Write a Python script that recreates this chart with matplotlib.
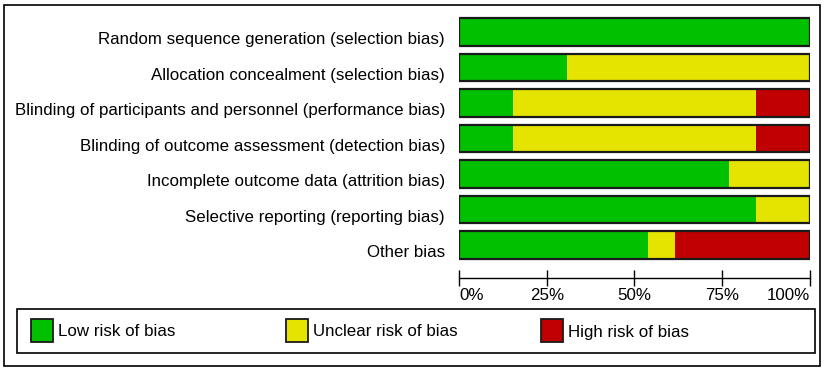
import matplotlib
matplotlib.use("Agg")
import matplotlib.pyplot as plt
from matplotlib.patches import Rectangle
from matplotlib.transforms import ScaledTranslation

# risk of bias domains, top to bottom
domains = [
    "Random sequence generation (selection bias)",
    "Allocation concealment (selection bias)",
    "Blinding of participants and personnel (performance bias)",
    "Blinding of outcome assessment (detection bias)",
    "Incomplete outcome data (attrition bias)",
    "Selective reporting (reporting bias)",
    "Other bias",
]
# percent of studies (13 studies)
low_risk = [100.0, 30.8, 15.4, 15.4, 76.9, 84.6, 53.8]
unclear_risk = [0.0, 69.2, 69.2, 69.2, 23.1, 15.4, 7.7]
high_risk = [0.0, 0.0, 15.4, 15.4, 0.0, 0.0, 38.5]

legend_labels = ["Low risk of bias", "Unclear risk of bias", "High risk of bias"]
tick_values = [0, 25, 50, 75, 100]
tick_labels = ["0%", "25%", "50%", "75%", "100%"]

colors = ["#00c000", "#e4e400", "#c00000"]

W, H = 829, 371
plt.rcParams["font.family"] = ["Liberation Sans", "DejaVu Sans"]
fs = 12.2

fig = plt.figure(figsize=(W / 100, H / 100), dpi=100)


def px(x0, y0, x1, y1):
    # pixel box (top-left origin) -> figure fraction [l, b, w, h]
    return [x0 / W, 1 - y1 / H, (x1 - x0) / W, (y1 - y0) / H]


ax = fig.add_axes(px(459, 14, 810, 278))
ypos = list(range(len(domains)))
bar_h = 27.5 / 35.5

left = [0.0] * len(domains)
for vals, col in zip([low_risk, unclear_risk, high_risk], colors):
    ax.barh(ypos, vals, left=left, height=bar_h, color=col, edgecolor="none", linewidth=0)
    left = [a + b for a, b in zip(left, vals)]
# outline around each full bar
ax.barh(ypos, left, height=bar_h, facecolor="none", edgecolor="#1a1a1a", linewidth=1.6)

ax.set_xlim(0, 100)
ax.set_ylim(-0.5 + 264 / 35.5, -0.5)
ax.set_yticks(ypos)
ax.set_yticklabels(domains, fontsize=fs)
ax.tick_params(axis="y", length=0, pad=10)
# labels sit a little below the bar centres in the original
shift = ScaledTranslation(0, -0.065, fig.dpi_scale_trans)
for t in ax.get_yticklabels():
    t.set_transform(t.get_transform() + shift)

ax.set_xticks(tick_values)
ax.set_xticklabels(tick_labels, fontsize=fs)
ax.tick_params(axis="x", direction="inout", length=11, width=1, pad=2, colors="black")
lbls = ax.get_xticklabels()
lbls[0].set_horizontalalignment("left")
lbls[-1].set_horizontalalignment("right")
for s in ["top", "left", "right"]:
    ax.spines[s].set_visible(False)
ax.spines["bottom"].set_linewidth(1)

# outer frame and legend box
b = px(4, 5, 820, 366)
fig.add_artist(Rectangle(b[:2], b[2], b[3], transform=fig.transFigure,
                         fill=False, edgecolor="black", linewidth=1.2))
b = px(17, 309, 815, 353)
fig.add_artist(Rectangle(b[:2], b[2], b[3], transform=fig.transFigure,
                         fill=False, edgecolor="black", linewidth=1.2))

for i, (lab, col) in enumerate(zip(legend_labels, colors)):
    x0 = 31 + 255 * i
    b = px(x0, 319, x0 + 22, 342)
    fig.add_artist(Rectangle(b[:2], b[2], b[3], transform=fig.transFigure,
                             facecolor=col, edgecolor="#1a1a1a", linewidth=1.3))
    fig.text((x0 + 27) / W, 1 - 332 / H, lab, fontsize=fs, va="center", ha="left")

fig.savefig("out.png", dpi=100)
